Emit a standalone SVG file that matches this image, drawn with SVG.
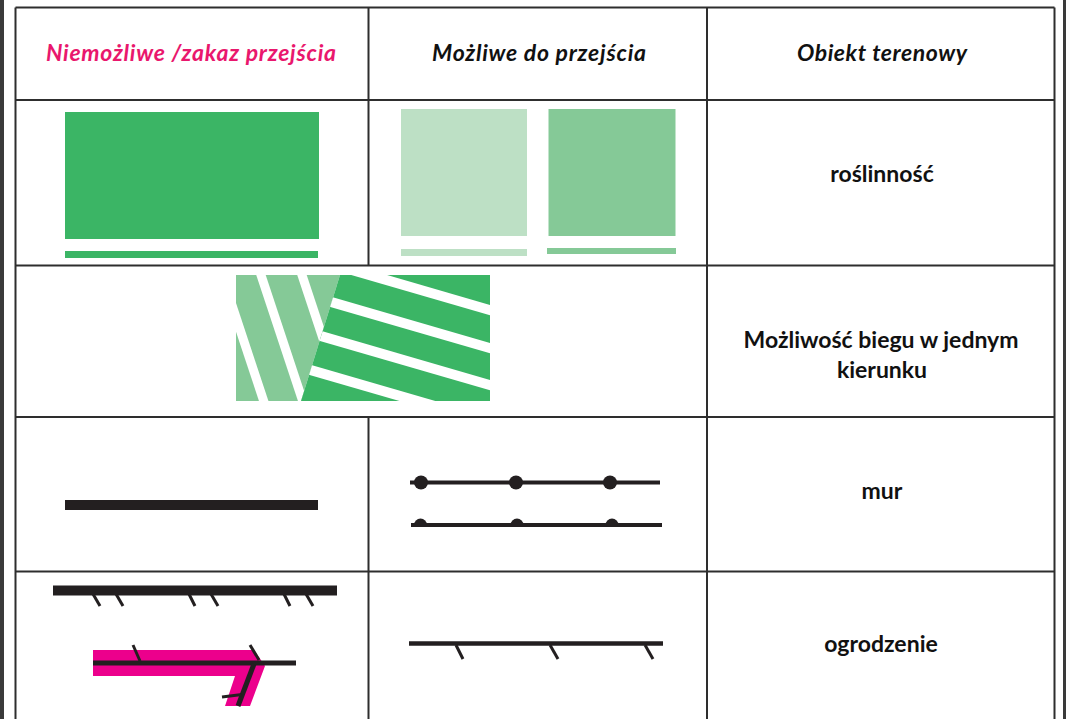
<svg xmlns="http://www.w3.org/2000/svg" width="1066" height="719" viewBox="0 0 1066 719">
<defs>
<style>
.grid{stroke:#2e2e2e;stroke-width:2;fill:none}
.hdr{font-family:Lato,"Open Sans","Liberation Sans",sans-serif;font-weight:bold;font-style:italic;font-size:23px;text-anchor:middle}
.lbl{font-family:Lato,"Open Sans","Liberation Sans",sans-serif;font-weight:bold;font-size:23px;text-anchor:middle;fill:#111}
.dg{fill:#3bb565}
.lg{fill:#bde0c5}
.mg{fill:#85c997}
.blk{stroke:#231f20;fill:none}
.wstripe{stroke:#fff;fill:none}
</style>
<clipPath id="clipLight"><polygon points="236,275 340,275 301,401 236,401"/></clipPath>
<clipPath id="clipDark"><polygon points="340,275 490,275 490,401 301,401"/></clipPath>
</defs>
<rect x="0" y="0" width="1066" height="719" fill="#fff"/>
<rect x="0" y="0" width="4" height="719" fill="#3a3a3a"/>
<rect x="1063" y="0" width="3" height="719" fill="#3a3a3a"/>

<g id="grid" class="grid">
<line x1="15.5" y1="7.5" x2="1054.5" y2="7.5"/>
<line x1="15.5" y1="7.5" x2="15.5" y2="719"/>
<line x1="1054.5" y1="7.5" x2="1054.5" y2="719"/>
<line x1="15.5" y1="100" x2="1054.5" y2="100"/>
<line x1="15.5" y1="265.5" x2="1054.5" y2="265.5"/>
<line x1="15.5" y1="417" x2="1054.5" y2="417"/>
<line x1="15.5" y1="571.5" x2="1054.5" y2="571.5"/>
<line x1="368.5" y1="7.5" x2="368.5" y2="265.5"/>
<line x1="368.5" y1="417" x2="368.5" y2="719"/>
<line x1="707" y1="7.5" x2="707" y2="719"/>
</g>

<g id="headers">
<text class="hdr" x="191" y="61" fill="#e9176d" textLength="290" lengthAdjust="spacing">Niemożliwe /zakaz przejścia</text>
<text class="hdr" x="539" y="61" fill="#111" textLength="214" lengthAdjust="spacing">Możliwe do przejścia</text>
<text class="hdr" x="882" y="61" fill="#111" textLength="170" lengthAdjust="spacing">Obiekt terenowy</text>
</g>

<g id="roslinnosc">
<rect class="dg" x="65" y="112" width="254" height="127"/>
<rect class="dg" x="65" y="251" width="253" height="7"/>
<rect class="lg" x="401" y="109" width="126" height="127"/>
<rect class="lg" x="401" y="249" width="126" height="7"/>
<rect class="mg" x="548.5" y="109" width="127" height="127"/>
<rect class="mg" x="547" y="248" width="129" height="6"/>
<text class="lbl" x="882" y="182">roślinność</text>
</g>

<g id="jeden-kierunek">
<g clip-path="url(#clipLight)">
<rect class="mg" x="236" y="275" width="110" height="126"/>
<g class="wstripe" stroke-width="9">
<line x1="217" y1="260" x2="270" y2="420"/>
<line x1="256" y1="260" x2="309" y2="420"/>
<line x1="297" y1="260" x2="350" y2="420"/>
</g>
</g>
<g clip-path="url(#clipDark)">
<rect class="dg" x="300" y="275" width="190" height="126"/>
<g class="wstripe" stroke-width="10">
<line x1="290" y1="252" x2="500" y2="313"/>
<line x1="290" y1="290" x2="500" y2="351"/>
<line x1="290" y1="327" x2="500" y2="388"/>
<line x1="290" y1="364" x2="500" y2="425"/>
</g>
</g>
<text class="lbl" x="881" y="348">Możliwość biegu w jednym</text>
<text class="lbl" x="882" y="378">kierunku</text>
</g>

<g id="mur">
<line class="blk" x1="65" y1="505" x2="318" y2="505" stroke-width="10"/>
<line class="blk" x1="410" y1="482.5" x2="660" y2="482.5" stroke-width="4"/>
<g fill="#231f20">
<circle cx="421" cy="482.5" r="7"/>
<circle cx="516" cy="482.5" r="7"/>
<circle cx="610" cy="482.5" r="7"/>
<path d="M414,525 a6.5,6.5 0 0 1 13,0 z"/>
<path d="M510.5,525 a6.5,6.5 0 0 1 13,0 z"/>
<path d="M605.5,525 a6.5,6.5 0 0 1 13,0 z"/>
</g>
<line class="blk" x1="411" y1="525" x2="662" y2="525" stroke-width="4"/>
<text class="lbl" x="882" y="499">mur</text>
</g>

<g id="ogrodzenie">
<line class="blk" x1="53" y1="590.5" x2="337" y2="590.5" stroke-width="10"/>
<g class="blk" stroke-width="3">
<line x1="93" y1="594" x2="100" y2="606"/>
<line x1="116" y1="594" x2="123" y2="606"/>
<line x1="189" y1="594" x2="195" y2="606"/>
<line x1="211" y1="594" x2="218" y2="606"/>
<line x1="284" y1="594" x2="290" y2="606"/>
<line x1="306" y1="594" x2="313" y2="606"/>
</g>
<polygon points="93,650 254,650 265,666 250,706 225,706 235,676 93,676" fill="#ec008c"/>
<g class="blk" stroke-width="5">
<line x1="93" y1="663" x2="296" y2="663"/>
<line x1="254" y1="664" x2="238" y2="706"/>
</g>
<g class="blk" stroke-width="3">
<line x1="133" y1="645" x2="140" y2="661"/>
<line x1="250" y1="645" x2="259" y2="660"/>
<line x1="222" y1="697" x2="242" y2="694.5"/>
</g>
<line class="blk" x1="409" y1="643.5" x2="663" y2="643.5" stroke-width="4.5"/>
<g class="blk" stroke-width="3">
<line x1="456" y1="645" x2="463" y2="659"/>
<line x1="550" y1="645" x2="558" y2="659"/>
<line x1="645" y1="645" x2="653" y2="659"/>
</g>
<text class="lbl" x="881" y="652">ogrodzenie</text>
</g>
</svg>
